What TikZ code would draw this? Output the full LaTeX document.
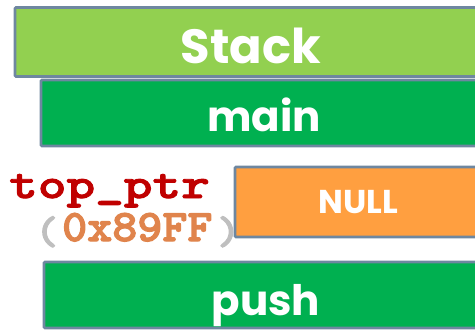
\documentclass[tikz,border=0pt]{standalone}
\usepackage{fontspec}
\setmainfont{Poppins}
\newfontfamily\ptrfont{lmmonolt10-bold.otf}[FakeStretch=1.27,FakeBold=2.2]
\newfontfamily\addrfont{lmmonolt10-bold.otf}[FakeStretch=1.06,FakeBold=2.6]
\newfontfamily\parenfont{lmmonolt10-bold.otf}[FakeStretch=1.1,FakeBold=2.5]
\definecolor{lightgreen}{HTML}{92D050}
\definecolor{darkgreen}{HTML}{00B050}
\definecolor{nullorange}{HTML}{FF9F40}
\definecolor{frame}{HTML}{6E87A0}
\definecolor{ptrred}{HTML}{C00000}
\definecolor{addrorange}{HTML}{E0844C}
\definecolor{parengray}{HTML}{BFBFBF}
\tikzset{
  frame box/.style={draw=frame, line width=2.6pt, rounded corners=1pt,
    inner sep=0pt},
  box label/.style={inner sep=0pt, anchor=base, text=white},
  code label/.style={inner sep=0pt, anchor=base west},
}
\begin{document}
\begin{tikzpicture}[x=1pt,y=-1pt]
\useasboundingbox (0,0) rectangle (475,330);
\clip (0,0) rectangle (475,330);
% stack frames
\node[frame box, fill=lightgreen, minimum width=472pt, minimum height=69pt] (stack) at (251,42) {};
\node[frame box, fill=darkgreen, minimum width=446pt, minimum height=66pt] (main) at (264,113) {};
\node[frame box, fill=nullorange, minimum width=246pt, minimum height=70pt] (null) at (358,202) {};
\node[frame box, fill=darkgreen, minimum width=444pt, minimum height=66pt] (push) at (266,295) {};
% frame labels, placed on their baselines
\node[box label, font=\bfseries\fontsize{48}{48}\selectfont] (stacktext) at (251,63) {Stack};
\node[box label, font=\bfseries\fontsize{42}{42}\selectfont] (maintext) at (264,131) {main};
\node[box label, font=\bfseries\fontsize{33}{33}\selectfont] (nulltext) at (358,213) {NULL};
\node[box label, font=\bfseries\fontsize{42}{42}\selectfont] (pushtext) at (266,315) {push};
% pointer variable and its address
\node[code label, text=ptrred, font=\ptrfont\fontsize{43}{43}\selectfont]
  (ptr) at (9,198) {top\_ptr};
\node[code label, text=parengray, font=\parenfont\fontsize{40}{40}\selectfont]
  (lparen) at (35,244) {(};
\node[code label, text=addrorange, text height=22pt,
  font=\addrfont\fontsize{45}{45}\selectfont]
  (addr) at (62,241) {0x89FF};
\node[code label, text=parengray, font=\parenfont\fontsize{40}{40}\selectfont]
  (rparen) at (217,244) {)};
\end{tikzpicture}
\end{document}
